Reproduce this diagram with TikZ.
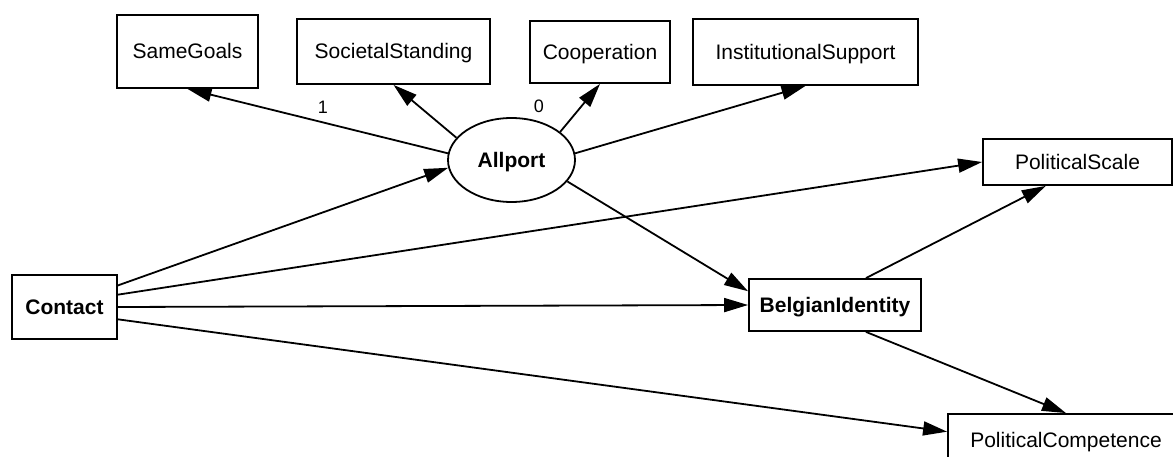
\documentclass[tikz,border=0pt]{standalone}
\usepackage{fontspec}
\setmainfont{Liberation Sans}
\usetikzlibrary{arrows.meta,shapes.geometric}

\begin{document}
\begin{tikzpicture}[x=1pt,y=-1pt,
  var/.style={draw, line width=1.8pt, rectangle, inner sep=0pt,
    text height=15pt, text depth=0pt, font=\fontsize{21}{25}\selectfont},
  latent/.style={draw, line width=1.8pt, ellipse, inner sep=0pt,
    text height=15pt, text depth=0pt, font=\bfseries\fontsize{21}{25}\selectfont},
  link/.style={line width=1.8pt, -{Triangle[length=24pt,width=14pt]}},
  coef/.style={font=\fontsize{18}{21}\selectfont}]
  \useasboundingbox (0,0) rectangle (1173,457);
  \clip (0,0) rectangle (1173,457);
  % indicators of Allport
  \node[var, minimum width=141pt, minimum height=73pt] (samegoals) at (187.5,51.5) {SameGoals};
  \node[var, minimum width=193pt, minimum height=65pt] (societal) at (393.5,51.5) {SocietalStanding};
  \node[var, minimum width=140pt, minimum height=62pt] (cooperation) at (600,52) {Cooperation};
  \node[var, minimum width=225pt, minimum height=66pt] (institutional) at (805.5,52) {InstitutionalSupport};
  \node[latent, minimum width=127pt, minimum height=84pt] (allport) at (511.5,160) {Allport};
  % observed variables
  \node[var, font=\bfseries\fontsize{21}{25}\selectfont, minimum width=105pt, minimum height=64pt] (contact) at (64.5,307) {Contact};
  \node[var, font=\bfseries\fontsize{21}{25}\selectfont, minimum width=172pt, minimum height=52pt] (belgian) at (835,305) {BelgianIdentity};
  \node[var, minimum width=189pt, minimum height=46pt] (pscale) at (1077.5,162) {PoliticalScale};
  \node[var, minimum width=236pt, minimum height=52pt] (pcomp) at (1066,440) {PoliticalCompetence};
  % loadings
  \draw[link] (allport.174) -- (samegoals.south);
  \draw[link] (allport.158) -- (societal.south);
  \draw[link] (allport.30) -- (cooperation.south);
  \draw[link] (allport.6) -- (institutional.south);
  \node[coef] (fixone) at (323,107) {1};
  \node[coef] (fixzero) at (539,106) {0};
  % structural paths
  \draw[link] (contact.22) -- (allport.187);
  \draw[link] (contact.13) -- (pscale.west);
  \draw[link] (contact.east) -- (belgian.west);
  \draw[link] (contact.-13) -- (pcomp.176);
  \draw[link] (allport.-21) -- (belgian.171);
  \draw[link] (belgian.41) -- (pscale.217);
  \draw[link] (belgian.-41) -- (pcomp.north);
\end{tikzpicture}
\end{document}
